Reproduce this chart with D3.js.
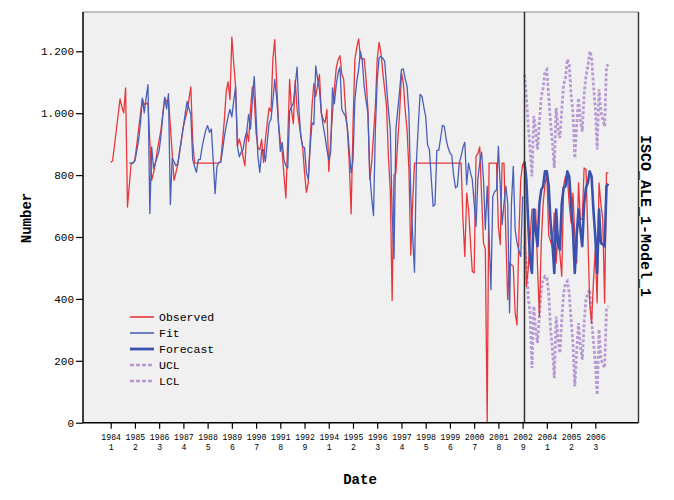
<!DOCTYPE html>
<html><head><meta charset="utf-8">
<script src="https://cdn.jsdelivr.net/npm/d3@7"></script>
<style>
body{margin:0;background:#fff}
text{font-family:"Liberation Mono","DejaVu Sans Mono",monospace}
</style>
</head><body><svg id="c" width="674" height="500"></svg>
<script>
// ---- data (index = period number, first period = 1984 1) ----
const tickYears   = ["1984","1985","1986","1987","1988","1989","1990","1991","1992","1994","1995","1996","1997","1998","1999","2000","2001","2002","2004","2005","2006"];
const tickPeriods = ["1","2","3","4","5","6","7","8","9","1","2","3","4","5","6","7","8","9","1","2","3"];
const periodsPerTick = 13;

const observed = [
841,846,894,944,995,1046,1020,1001,1082,697,
768,839,839,850,899,949,1000,1046,1028,1030,
1033,909,783,808,839,879,914,947,1000,1049,
1038,1043,960,869,783,808,834,874,914,957,
982,1006,1045,1085,909,839,839,839,839,839,
839,839,839,839,839,839,839,839,839,844,
909,980,1071,1101,1044,1246,1162,1087,893,917,
893,859,830,941,909,1010,1085,1049,936,889,
882,915,841,915,970,1017,1006,1174,1238,1109,
969,909,877,798,726,915,1109,1010,966,1106,
1012,970,929,888,808,744,775,909,1022,1096,
1054,1091,1125,1001,980,969,1012,812,909,1001,
1077,1146,1172,1186,1125,1109,1010,947,839,675,
957,1174,1212,1240,1179,1176,1176,1111,1012,786,
839,929,1022,1174,1229,1195,1131,1077,1022,859,
752,395,801,807,909,1001,1130,1098,1010,947,
818,542,710,839,839,839,839,839,839,839,
839,839,839,839,839,839,839,839,839,839,
839,839,839,839,839,839,839,839,839,656,
537,742,689,586,489,484,861,869,891,731,
581,559,0,839,839,839,839,839,634,576,
839,839,606,398,516,510,505,355,316,606,
786,834,839,440,495,596,689,689,689,505,
343,581,707,768,807,606,586,566,678,516,
606,545,473,764,796,796,707,646,742,606,
516,775,657,657,823,818,606,387,322,455,
559,387,775,707,657,387,807,807];

const fitStart = 10;
const fit = [
839,839,839,846,879,914,970,1049,1001,1050,
1092,676,891,820,841,859,879,929,995,1052,
1014,1063,705,855,843,830,837,879,919,957,
1000,1038,1015,996,850,828,809,850,850,889,
919,944,960,938,949,848,740,828,841,841,
879,925,960,990,1012,988,1040,1085,893,859,
874,882,919,941,996,949,1040,1119,990,859,
809,882,882,844,909,969,980,1040,1109,1050,
970,877,906,848,830,823,1006,1020,1033,1091,
1149,1010,925,893,888,808,786,889,969,963,
1153,1111,1077,1001,960,925,882,850,872,1082,
1031,1091,1130,1149,1012,1000,990,952,879,807,
847,1044,1101,1141,1200,1168,1087,1040,1001,807,
727,669,947,1109,1179,1184,1177,1168,1087,1010,
947,678,529,947,1010,1071,1141,1143,1111,1087,
1001,731,606,486,839,957,1061,1054,1020,990,
898,882,788,699,705,880,880,919,961,957,
915,889,872,864,798,759,764,838,861,889,
906,769,839,808,786,710,634,788,839,874,
786,624,764,606,430,731,747,752,893,764,
640,707,764,710,355,707,828,624,581,556,
537,731];

const forecastStart = 222;
const forecast = [
844,786,646,525,484,689,624,570,707,752,
764,812,812,764,646,581,484,689,581,559,
707,759,764,812,796,707,624,484,606,689,
624,570,707,759,775,812,796,687,602,484,
689,581,576,570,764,772];
const ucl = [
1125,1054,960,883,796,990,947,883,970,1054,
1082,1135,1141,1054,970,904,823,1017,947,920,
1010,1093,1114,1174,1157,1061,1001,855,960,1049,
980,941,1061,1119,1151,1200,1184,1091,1017,883,
1077,1006,980,957,1151,1157];
const lcl = [
570,516,404,355,177,376,301,258,343,430,
463,473,468,419,303,236,144,343,269,225,
333,419,451,457,419,333,258,117,232,322,
246,204,323,398,419,430,333,263,193,90,
301,204,192,177,366,376];

const yTicks = [0,200,400,600,800,1000,1200];
const legendNames = ["Observed","Fit","Forecast","UCL","LCL"];

// ---- drawing ----
const svg = d3.select("#c");
const P = {left:83, right:638.5, top:12, bottom:422.7};
const x = d3.scaleLinear().domain([0, periodsPerTick*(tickYears.length-1)]).range([110.7, 595.3]);
const y = d3.scaleLinear().domain([0,1200]).range([422.7, 51.3]);

const C = {obs:"#e8373c", fit:"#4a5fb8", fc:"#3a52ad", ci:"#b89ad2"};

svg.append("rect").attr("x",P.left).attr("y",P.top)
  .attr("width",P.right-P.left).attr("height",P.bottom-P.top).attr("fill","#f0f0f0");
svg.append("line").attr("x1",P.left).attr("x2",P.right).attr("y1",P.top).attr("y2",P.top)
  .attr("stroke","#8a8a8a").attr("stroke-width",1.2);
svg.append("line").attr("x1",P.right).attr("x2",P.right).attr("y1",P.top).attr("y2",P.bottom)
  .attr("stroke","#333").attr("stroke-width",1.4);

const g = svg.append("g");
const mk = (start) => d3.line().x((d,i)=>x(start+i)).y(d=>y(d));

g.append("path").datum(ucl).attr("d",mk(forecastStart)).attr("fill","none")
  .attr("stroke",C.ci).attr("stroke-width",2.8).attr("stroke-dasharray","3,2");
g.append("path").datum(lcl).attr("d",mk(forecastStart)).attr("fill","none")
  .attr("stroke",C.ci).attr("stroke-width",2.8).attr("stroke-dasharray","3,2");
g.append("path").datum(observed).attr("d",mk(0)).attr("fill","none")
  .attr("stroke",C.obs).attr("stroke-width",1.3).attr("stroke-linejoin","round");
g.append("path").datum(fit).attr("d",mk(fitStart)).attr("fill","none")
  .attr("stroke",C.fit).attr("stroke-width",1.3).attr("stroke-linejoin","round");
g.append("path").datum(forecast).attr("d",mk(forecastStart)).attr("fill","none")
  .attr("stroke",C.fc).attr("stroke-width",2.6).attr("stroke-linejoin","round");

// forecast origin line
svg.append("line").attr("x1",x(forecastStart)).attr("x2",x(forecastStart))
  .attr("y1",P.top).attr("y2",P.bottom).attr("stroke","#333").attr("stroke-width",1.5);

// y axis
const loc = d3.formatLocale({decimal:",",thousands:".",grouping:[3],currency:["",""]});
const yAxis = d3.axisLeft(y).tickValues(yTicks).tickSize(7).tickPadding(2).tickFormat(loc.format(",d"));
const ya = svg.append("g").attr("transform",`translate(${P.left},0)`).call(yAxis);
ya.select(".domain").attr("d",`M0,${P.top}V${P.bottom}`).attr("stroke","#000").attr("stroke-width",1.5);
ya.selectAll(".tick line").attr("stroke","#000").attr("stroke-width",1.2);
ya.selectAll(".tick text").attr("font-family","Liberation Mono").attr("font-size",11).attr("fill","#000");

// x axis
const xt = tickYears.map((_,i)=>i*periodsPerTick);
const xAxis = d3.axisBottom(x).tickValues(xt).tickSize(6).tickFormat("");
const xa = svg.append("g").attr("transform",`translate(0,${P.bottom})`).call(xAxis);
xa.select(".domain").attr("d",`M${P.left},0H${P.right}`).attr("stroke","#000").attr("stroke-width",1.5);
xa.selectAll(".tick line").attr("stroke","#000").attr("stroke-width",1.2);
xa.selectAll(".tick").each(function(d,i){
  const t = d3.select(this).append("text").attr("fill","#000").attr("font-size",8.2)
    .attr("font-family","Liberation Mono").attr("text-anchor","middle");
  t.append("tspan").attr("x",0).attr("y",17).text(tickYears[i]);
  t.append("tspan").attr("x",0).attr("y",27).text(tickPeriods[i]);
});

// titles
svg.append("text").attr("transform","translate(31,218) rotate(-90)").attr("text-anchor","middle")
  .attr("font-weight","bold").attr("font-size",14).text("Number");
svg.append("text").attr("x",360).attr("y",484).attr("text-anchor","middle")
  .attr("font-weight","bold").attr("font-size",14).text("Date");
svg.append("text").attr("transform","translate(641,216) rotate(90)").attr("text-anchor","middle")
  .attr("font-weight","bold").attr("font-size",15).text("ISCO_ALE_1-Model_1");

// legend
const lg = svg.append("g");
const lstyle = [
  {c:C.obs,w:1.6,d:null},{c:C.fit,w:1.6,d:null},{c:C.fc,w:2.8,d:null},
  {c:C.ci,w:2.6,d:"4,2"},{c:C.ci,w:2.6,d:"4,2"}];
legendNames.forEach((n,i)=>{
  const yy = 317 + i*16;
  lg.append("line").attr("x1",130).attr("x2",154).attr("y1",yy).attr("y2",yy)
    .attr("stroke",lstyle[i].c).attr("stroke-width",lstyle[i].w)
    .attr("stroke-dasharray",lstyle[i].d);
  lg.append("text").attr("x",159).attr("y",yy+4).attr("font-size",11.5).attr("fill","#000").text(n);
});
</script></body></html>
